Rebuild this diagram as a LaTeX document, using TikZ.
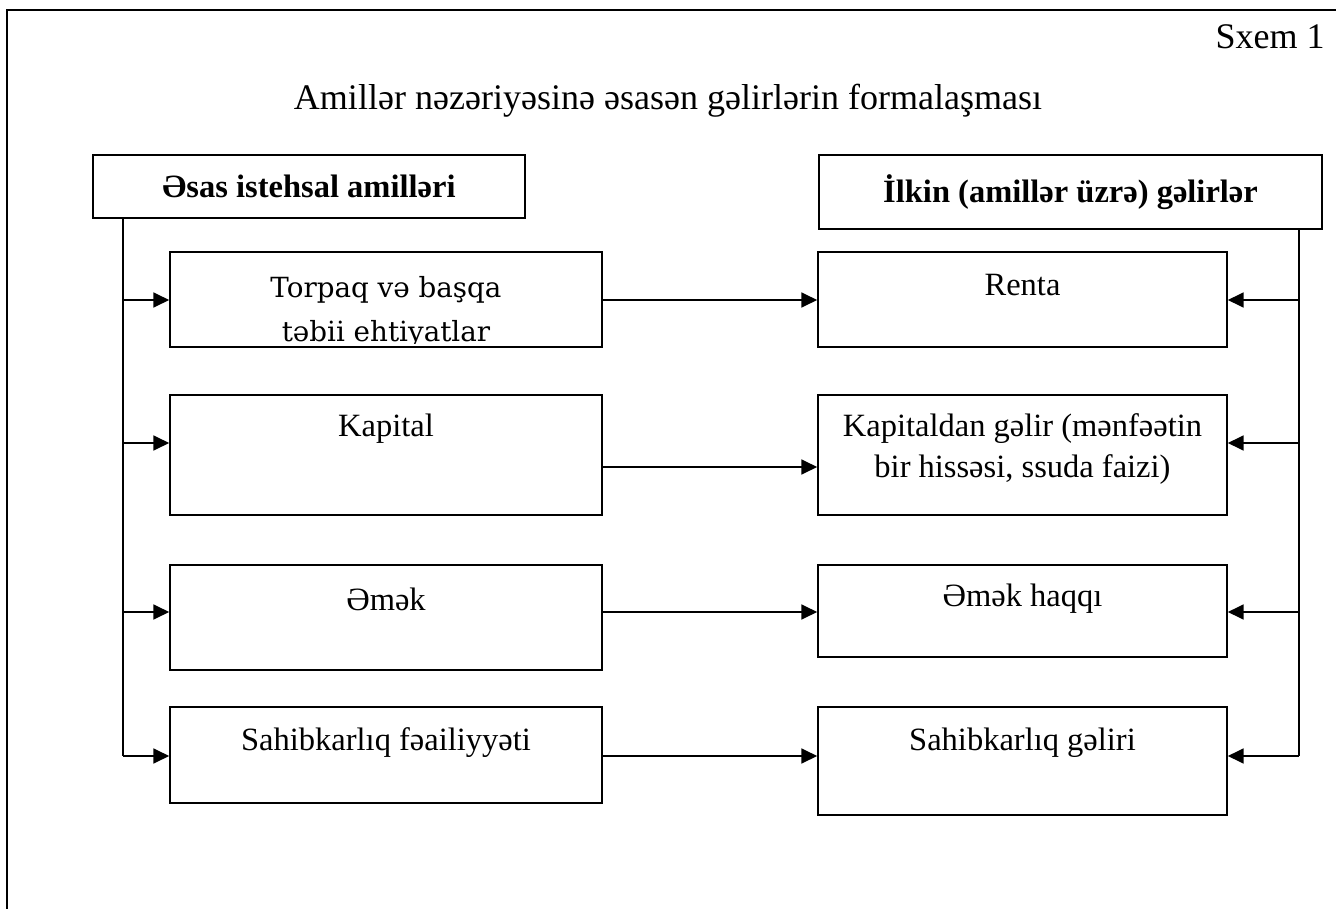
\documentclass[tikz,border=0pt]{standalone}
\usepackage{fontspec}
\setmainfont{Liberation Serif}
\newfontfamily\torpaqfont{DejaVu Serif}
\usetikzlibrary{arrows.meta}

\begin{document}
\begin{tikzpicture}[x=0.02cm, y=-0.02cm,
    box/.style={draw, line width=0.95pt, rectangle, inner sep=0pt},
    lbl/.style={font=\fontsize{18.5}{23}\selectfont, align=center, inner sep=0pt},
    head/.style={box, font=\fontsize{18.5}{23}\selectfont\bfseries},
    arr/.style={line width=0.95pt, -{Triangle[length=9pt,width=8.5pt]}},
    bus/.style={line width=0.95pt}]
    \useasboundingbox (0,0) rectangle (1336,909);
    % frame and titles
    \draw[line width=1.5pt] (7,10) rectangle (1350,930);
    \node[lbl, font=\fontsize{20.5}{24}\selectfont, anchor=east] (sxem) at (1325,37) {Sxem 1};
    \node[lbl, font=\fontsize{20.5}{24}\selectfont] (title) at (668,101) {Amillər nəzəriyəsinə əsasən gəlirlərin formalaşması};
    % headings
    \node[head, minimum width=8.64cm, minimum height=1.26cm] (factors) at (309,186.5) {Əsas istehsal amilləri};
    \node[head, minimum width=10.06cm, minimum height=1.48cm] (incomes) at (1070.5,192) {İlkin (amillər üzrə) gəlirlər};
    % left column
    \node[box, minimum width=8.64cm, minimum height=1.9cm] (land) at (386,299.5) {};
    \node[box, minimum width=8.64cm, minimum height=2.4cm] (capital) at (386,455) {};
    \node[box, minimum width=8.64cm, minimum height=2.1cm] (labour) at (386,617.5) {};
    \node[box, minimum width=8.64cm, minimum height=1.92cm] (enterprise) at (386,755) {};
    % right column
    \node[box, minimum width=8.18cm, minimum height=1.9cm] (rent) at (1022.5,299.5) {};
    \node[box, minimum width=8.18cm, minimum height=2.4cm] (interest) at (1022.5,455) {};
    \node[box, minimum width=8.18cm, minimum height=1.84cm] (wage) at (1022.5,611) {};
    \node[box, minimum width=8.18cm, minimum height=2.16cm] (profit) at (1022.5,761) {};
    % texts
    \begin{scope}
        \clip (land.north west) rectangle ([yshift=2.5pt]land.south east);
        \node[lbl, font=\torpaqfont\fontsize{15.8}{25.5}\selectfont] (landtxt) at (386,312) {Torpaq və başqa\\təbii ehtiyatlar};
    \end{scope}
    \node[lbl] (capitaltxt) at (386,429) {Kapital};
    \node[lbl] (labourtxt) at (386,599) {Əmək};
    \node[lbl] (enterprisetxt) at (386,743) {Sahibkarlıq fəailiyyəti};
    \node[lbl] (renttxt) at (1022.5,285) {Renta};
    \node[lbl] (interesttxt) at (1022.5,449) {Kapitaldan gəlir (mənfəətin\\bir hissəsi, ssuda faizi)};
    \node[lbl] (wagetxt) at (1022.5,599) {Əmək haqqı};
    \node[lbl] (profittxt) at (1022.5,743) {Sahibkarlıq gəliri};
    % connectors
    \coordinate (y1) at (0,300);
    \coordinate (y2) at (0,443);
    \coordinate (y2m) at (0,467);
    \coordinate (y3) at (0,612);
    \coordinate (y4) at (0,756);
    \coordinate (lbus) at (123,756);
    \coordinate (rbus) at (1299,756);
    \draw[bus] (factors.south -| lbus) -- (lbus);
    \draw[bus] (incomes.south -| rbus) -- (rbus);
    \foreach \b/\y in {land/y1, capital/y2, labour/y3, enterprise/y4}
        \draw[arr] (lbus |- \y) -- (\b.west |- \y);
    \foreach \b/\y in {rent/y1, interest/y2, wage/y3, profit/y4}
        \draw[arr] (rbus |- \y) -- (\b.east |- \y);
    \foreach \a/\b/\y in {land/rent/y1, capital/interest/y2m, labour/wage/y3, enterprise/profit/y4}
        \draw[arr] (\a.east |- \y) -- (\b.west |- \y);
\end{tikzpicture}
\end{document}
